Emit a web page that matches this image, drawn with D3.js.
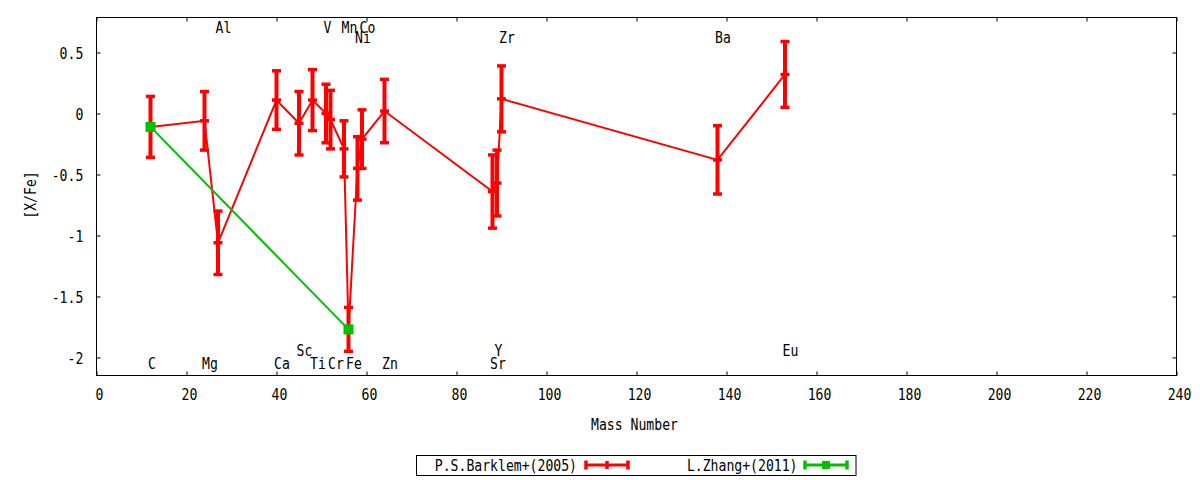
<!DOCTYPE html>
<html>
<head>
<meta charset="utf-8">
<script src="https://cdn.jsdelivr.net/npm/d3@7"></script>
<style>
body { margin: 0; background: #fff; }
text { font-family: "DejaVu Sans Mono", monospace; font-size: 15px; fill: #000; }
</style>
</head>
<body>
<svg id="chart" width="1200" height="480"></svg>
<script>
// elements and their mass numbers
const elements = ["C", "Mg", "Al", "Ca", "Sc", "Ti", "V", "Cr", "Mn", "Fe", "Ni", "Co", "Zn", "Sr", "Y", "Zr", "Ba", "Eu"];
const massNumbers = [12, 24, 27, 40, 45, 48, 51, 52, 55, 56, 58, 59, 64, 88, 89, 90, 138, 153];
// where each element name sits (in [X/Fe] units)
const labelY = [-2.05, -2.05, 0.705, -2.05, -1.94, -2.05, 0.705, -2.05, 0.705, -2.05, 0.62, 0.705, -2.05, -2.05, -1.94, 0.62, 0.62, -1.94];

// P.S.Barklem+(2005)
const barklemXFe = [-0.11, -0.06, -1.06, 0.11, -0.08, 0.11, 0.0, -0.05, -0.29, -1.77, -0.45, -0.21, 0.02, -0.64, -0.57, 0.12, -0.38, 0.32];
const barklemErr = [0.25, 0.24, 0.26, 0.24, 0.26, 0.25, 0.24, 0.24, 0.23, 0.18, 0.26, 0.24, 0.26, 0.30, 0.27, 0.27, 0.28, 0.27];

// L.Zhang+(2011)
const zhangMass = [12, 56];
const zhangXFe = [-0.11, -1.77];
const zhangErr = [0, 0];

const xTicks = [0, 20, 40, 60, 80, 100, 120, 140, 160, 180, 200, 220, 240];
const yTicks = [-2, -1.5, -1, -0.5, 0, 0.5];

const CHAR_W = 7.9; // the glyphs in the picture are narrow

function squeeze(sel) {
    sel.attr('textLength', function() { return this.textContent.length * CHAR_W; })
       .attr('lengthAdjust', 'spacingAndGlyphs');
}

const svg = d3.select('#chart');
svg.append('rect').attr('width', 1200).attr('height', 480).attr('fill', '#fff');

const pLeft = 96.5, pRight = 1176.5, pTop = 17.5, pBottom = 375.5;
const x = d3.scaleLinear().domain([0, 240]).range([pLeft, pRight]);
const y = d3.scaleLinear().domain([-2.148, 0.787]).range([pBottom, pTop]);

// axes, ticks pointing inside like gnuplot
const fmt = d => String(d);
const gx = svg.append('g').attr('transform', `translate(0,${pBottom})`)
    .call(d3.axisBottom(x).tickValues(xTicks).tickFormat(fmt).tickSizeInner(-4).tickSizeOuter(0));
const gy = svg.append('g').attr('transform', `translate(${pLeft},0)`)
    .call(d3.axisLeft(y).tickValues(yTicks).tickFormat(fmt).tickSizeInner(-4).tickSizeOuter(0));
const gt = svg.append('g').attr('transform', `translate(0,${pTop})`)
    .call(d3.axisTop(x).tickValues(xTicks).tickFormat('').tickSizeInner(-4).tickSizeOuter(0));
const gr = svg.append('g').attr('transform', `translate(${pRight},0)`)
    .call(d3.axisRight(y).tickValues(yTicks).tickFormat('').tickSizeInner(-4).tickSizeOuter(0));

[gx, gy, gt, gr].forEach(g => {
    g.select('.domain').remove();
    g.selectAll('line').attr('stroke', '#000').attr('stroke-width', 1);
    g.attr('font-family', null).attr('font-size', null);
});
gx.selectAll('text').attr('x', 2.5).attr('y', 24.5).attr('dy', null).call(squeeze);
gy.selectAll('text').attr('x', -13.2).attr('dy', '0.37em').call(squeeze);

svg.append('rect')
    .attr('x', pLeft).attr('y', pTop)
    .attr('width', pRight - pLeft).attr('height', pBottom - pTop)
    .attr('fill', 'none').attr('stroke', '#000').attr('stroke-width', 1);

// axis titles
svg.append('text').attr('x', 634.5).attr('y', 430).attr('text-anchor', 'middle')
    .text('Mass Number').call(squeeze);
svg.append('text').attr('transform', 'translate(31,195) rotate(-90)')
    .attr('text-anchor', 'middle').attr('dy', '0.35em')
    .text('[X/Fe]').call(squeeze);

// element names
svg.append('g').selectAll('text')
    .data(elements)
    .enter()
    .append('text')
    .attr('x', (d, i) => x(massNumbers[i]) - 2.5)
    .attr('y', (d, i) => y(labelY[i]) + 5.5)
    .text(d => d)
    .call(squeeze);

function drawSeries(mass, vals, errs, color, squareMarker) {
    const pts = mass.map((m, i) => ({ m: m, v: vals[i], e: errs[i] }));
    const g = svg.append('g');
    const line = d3.line().x(d => x(d.m)).y(d => y(d.v));
    g.append('path').datum(pts)
        .attr('d', line)
        .attr('fill', 'none')
        .attr('stroke', color)
        .attr('stroke-width', 2);

    const bars = g.selectAll('g.bar').data(pts).enter().append('g').attr('class', 'bar');
    bars.append('line')
        .attr('x1', d => x(d.m)).attr('x2', d => x(d.m))
        .attr('y1', d => y(d.v + d.e)).attr('y2', d => y(d.v - d.e))
        .attr('stroke', color).attr('stroke-width', 4);
    [1, -1].forEach(s => {
        bars.append('line')
            .attr('x1', d => x(d.m) - 4.5).attr('x2', d => x(d.m) + 4.5)
            .attr('y1', d => y(d.v + s * d.e)).attr('y2', d => y(d.v + s * d.e))
            .attr('stroke', color).attr('stroke-width', 3.5);
    });
    if (squareMarker) {
        bars.append('rect')
            .attr('x', d => x(d.m) - 5).attr('y', d => y(d.v) - 5)
            .attr('width', 10).attr('height', 10)
            .attr('fill', color);
    } else {
        bars.append('line')
            .attr('x1', d => x(d.m) - 4.5).attr('x2', d => x(d.m) + 4.5)
            .attr('y1', d => y(d.v)).attr('y2', d => y(d.v))
            .attr('stroke', color).attr('stroke-width', 3.5);
    }
}

drawSeries(massNumbers, barklemXFe, barklemErr, '#ff0000', false);
drawSeries(zhangMass, zhangXFe, zhangErr, '#00c000', true);

// legend
const legend = svg.append('g');
legend.append('rect').attr('x', 416.5).attr('y', 455.5).attr('width', 439.5).attr('height', 20)
    .attr('fill', 'none').attr('stroke', '#000').attr('stroke-width', 1);
const legendItems = [
    { name: 'P.S.Barklem+(2005)', color: '#ff0000', textEnd: 577, x0: 586, x1: 628, square: false },
    { name: 'L.Zhang+(2011)', color: '#00c000', textEnd: 797.5, x0: 805, x1: 847, square: true }
];
legendItems.forEach(it => {
    const ly = 465;
    legend.append('text').attr('x', it.textEnd).attr('y', ly + 5.5).attr('text-anchor', 'end')
        .text(it.name).call(squeeze);
    legend.append('line').attr('x1', it.x0).attr('x2', it.x1).attr('y1', ly).attr('y2', ly)
        .attr('stroke', it.color).attr('stroke-width', 3);
    [it.x0, it.x1].forEach(cx => {
        legend.append('line').attr('x1', cx).attr('x2', cx).attr('y1', ly - 4.5).attr('y2', ly + 4.5)
            .attr('stroke', it.color).attr('stroke-width', 3.5);
    });
    const mid = (it.x0 + it.x1) / 2;
    if (it.square) {
        legend.append('rect').attr('x', mid - 4).attr('y', ly - 4).attr('width', 8).attr('height', 8)
            .attr('fill', it.color);
    } else {
        legend.append('line').attr('x1', mid).attr('x2', mid).attr('y1', ly - 4).attr('y2', ly + 4)
            .attr('stroke', it.color).attr('stroke-width', 3.5);
    }
});
</script>
</body>
</html>
